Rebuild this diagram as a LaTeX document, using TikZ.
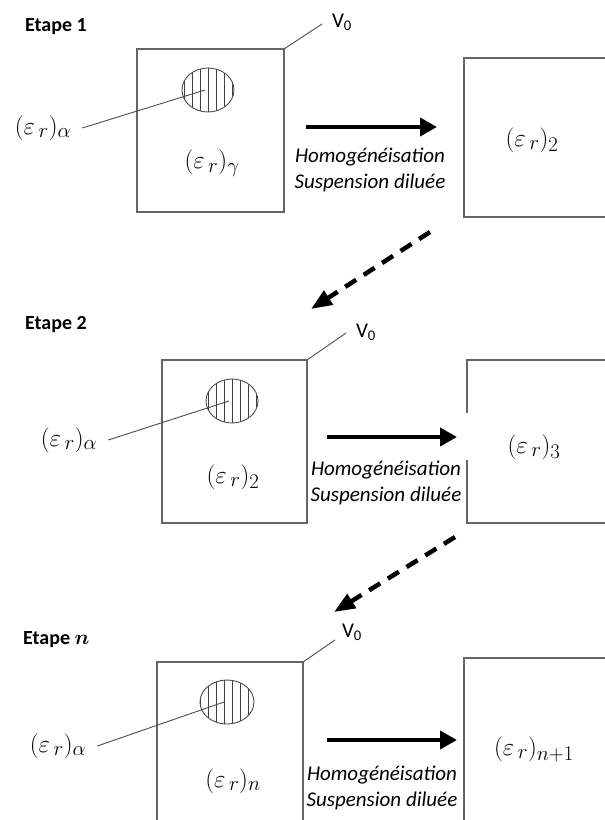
\documentclass[tikz,border=0pt]{standalone}
\usepackage{amsmath,amssymb}
\usepackage{fontspec}
\newfontfamily\calib{Carlito}
\usetikzlibrary{arrows.meta,patterns.meta}

\tikzset{
  box/.style={draw=black!60, line width=1.2pt},
  leader/.style={draw=black!70, line width=0.9pt},
  hatch/.style={draw=black!70, line width=0.9pt,
    pattern={Lines[angle=90,distance=8pt,line width=0.7pt]}, pattern color=black!75},
  flow/.style={line width=4pt, -{Triangle[length=17pt,width=18pt]}},
  nextstage/.style={line width=4.5pt, dash pattern=on 13pt off 9pt,
    -{Triangle[length=21pt,width=16pt]}},
  lab/.style={inner sep=1pt, font=\fontsize{24.88}{30}\selectfont},
  etape/.style={anchor=west, inner sep=0pt, font=\calib\bfseries\fontsize{20}{24}\selectfont},
  vol/.style={inner sep=0pt, font=\calib\fontsize{21}{24}\selectfont},
  homog/.style={align=center, inner sep=0pt, font=\calib\itshape\fontsize{21}{26}\selectfont},
}

\begin{document}
\begin{tikzpicture}[x=1pt, y=1pt]
\useasboundingbox (0,0) rectangle (605,-820);
\clip (0,0) rectangle (605,-820);
% Etape 1
\node[etape] (e1) at (25,-27) {Etape 1};
\draw[box] (137,-49) rectangle (284,-212);
\coordinate (inc1) at (208,-90);
\draw[hatch] (inc1) ellipse [x radius=26pt, y radius=22pt];
\node[lab] (a1) at (43,-128) {$(\varepsilon_{\,r})_{\alpha}$};
\draw[leader] ([xshift=10pt]a1.east) -- ([xshift=-3pt]inc1);
\node[lab] (g1) at (212,-163) {$(\varepsilon_{\,r})_{\gamma}$};
\coordinate (c1) at (284,-49);
\coordinate (v1e) at (322,-24);
\draw[leader] (c1) -- (v1e);
\node[vol] (v1) at (342,-22) {V\textsubscript{0}};
\coordinate (f1s) at (306,-127);
\coordinate (f1e) at (437,-127);
\draw[flow] (f1s) -- (f1e);
\node[homog] (h1) at (370,-170) {Homogénéisation\\Suspension diluée};
\draw[box] (464,-58) rectangle (640,-217);
\node[lab] (r1) at (532,-140) {$(\varepsilon_{\,r})_{2}$};
\coordinate (n1s) at (430,-232);
\coordinate (n1e) at (311,-309);
\draw[nextstage] (n1s) -- (n1e);
% Etape 2
\node[etape] (e2) at (25,-325) {Etape 2};
\draw[box] (162,-360) rectangle (307,-523);
\coordinate (inc2) at (232,-401);
\draw[hatch] (inc2) ellipse [x radius=26pt, y radius=22pt];
\node[lab] (a2) at (69,-440) {$(\varepsilon_{\,r})_{\alpha}$};
\draw[leader] ([xshift=10pt]a2.east) -- ([xshift=-3pt]inc2);
\node[lab] (g2) at (233,-477) {$(\varepsilon_{\,r})_{2}$};
\coordinate (c2) at (307,-360);
\coordinate (v2e) at (346,-333);
\draw[leader] (c2) -- (v2e);
\node[vol] (v2) at (366,-332) {V\textsubscript{0}};
\coordinate (f2s) at (327,-437);
\coordinate (f2e) at (457,-437);
\draw[flow] (f2s) -- (f2e);
\node[homog] (h2) at (386,-483) {Homogénéisation\\Suspension diluée};
\draw[box] (467,-413) -- (467,-360) -- (640,-360);
\draw[box] (467,-460) -- (467,-523) -- (640,-523);
\node[lab] (r2) at (534,-447) {$(\varepsilon_{\,r})_{3}$};
\coordinate (n2s) at (455,-537);
\coordinate (n2e) at (334,-612);
\draw[nextstage] (n2s) -- (n2e);
% Etape n
\node[etape] (e3) at (23,-640) {Etape $\boldsymbol{n}$};
\draw[box] (157,-662) rectangle (303,-840);
\coordinate (inc3) at (227,-702);
\draw[hatch] (inc3) ellipse [x radius=27pt, y radius=22pt];
\node[lab] (a3) at (58,-746) {$(\varepsilon_{\,r})_{\alpha}$};
\draw[leader] ([xshift=10pt]a3.east) -- ([xshift=-3pt]inc3);
\node[lab] (g3) at (233,-781) {$(\varepsilon_{\,r})_{n}$};
\coordinate (c3) at (303,-662);
\coordinate (v3e) at (335,-640);
\draw[leader] (c3) -- (v3e);
\node[vol] (v3) at (352,-632) {V\textsubscript{0}};
\coordinate (f3s) at (327,-740);
\coordinate (f3e) at (457,-740);
\draw[flow] (f3s) -- (f3e);
\node[homog] (h3) at (382,-788) {Homogénéisation\\Suspension diluée};
\draw[box] (464,-658) rectangle (640,-840);
\node[lab] (r3) at (534,-749) {$(\varepsilon_{\,r})_{n+1}$};
\end{tikzpicture}
\end{document}
